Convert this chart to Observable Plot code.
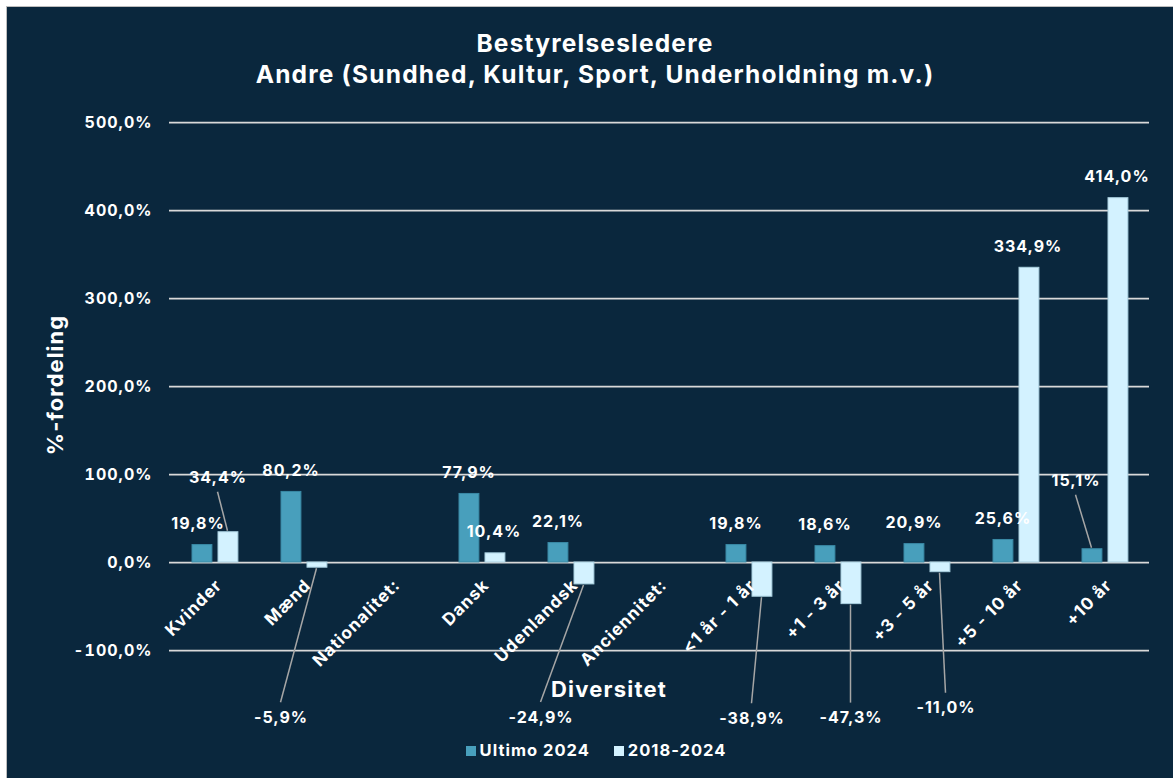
<!DOCTYPE html>
<html>
<head>
<meta charset="utf-8">
<script src="https://cdn.jsdelivr.net/npm/d3@7"></script>
<script src="https://cdn.jsdelivr.net/npm/@observablehq/plot@0.6"></script>
<style>
  html, body { margin: 0; padding: 0; background: #ffffff; }
  body { width: 1173px; height: 778px; position: relative; overflow: hidden; font-family: Inter, "Noto Sans", sans-serif; }
  #panel { position: absolute; left: 6px; top: 6px; width: 1167px; height: 772px; box-sizing: border-box;
           background: #0a273d; border-left: 1px solid #bdbdbd; border-top: 1px solid #bdbdbd; }
  #chart { position: absolute; left: 0; top: 0; }
  #chart text { letter-spacing: 1px; }
  .t { position: absolute; color: #ffffff; font-weight: 700; white-space: nowrap; }
  #title { left: 0; width: 1176px; top: 21px; text-align: center; font-size: 24.5px; line-height: 31px; letter-spacing: 1.2px; }
  #ylab { left: 48px; top: 378px; font-size: 22px; letter-spacing: 1px; transform: translate(-50%, -50%) rotate(-90deg); transform-origin: center; }
  #xlab { left: 602px; top: 682px; font-size: 22px; letter-spacing: 1.2px; transform: translate(-50%, -50%); }
  #legend { left: 0; width: 1178px; top: 733px; text-align: center; font-size: 16.5px; letter-spacing: 1px; }
  .sw { display: inline-block; width: 10px; height: 10px; margin-right: 4px; vertical-align: 0px; }
  .item { display: inline-block; margin: 0 12px; }
</style>
</head>
<body>
<div id="panel">
  <div id="chart"></div>
  <div id="title" class="t"></div>
  <div id="ylab" class="t"></div>
  <div id="xlab" class="t"></div>
  <div id="legend" class="t"></div>
</div>
<script>
// ---------- data ----------
const titleLines = ["Bestyrelsesledere", "Andre (Sundhed, Kultur, Sport, Underholdning m.v.)"];
const yTitle = "%-fordeling";
const xTitle = "Diversitet";
const seriesNames = ["Ultimo 2024", "2018-2024"];
const categories = ["Kvinder", "Mænd", "Nationalitet:", "Dansk", "Udenlandsk", "Anciennitet:",
  "<1 år - 1 år", "+1 - 3 år", "+3 - 5 år", "+5 - 10 år", "+10 år"];
const ultimo2024 = [19.8, 80.2, null, 77.9, 22.1, null, 19.8, 18.6, 20.9, 25.6, 15.1];
const change2018_2024 = [34.4, -5.9, null, 10.4, -24.9, null, -38.9, -47.3, -11.0, 334.9, 414.0];
const yTicks = [-100, 0, 100, 200, 300, 400, 500];

// ---------- layout / style (not data) ----------
const colors = {"Ultimo 2024": "#489fbc", "2018-2024": "#d3f2ff"};
const strokes = {"Ultimo 2024": "#3a8aa6", "2018-2024": "#a9cfdf"};
// label offset in px relative to bar centre / bar end
const ultimoLabelOffset = [[-4,-21],[0,-21],null,[0,-21],[0,-21],null,[0,-21],[0,-21],[0,-21],[0,-21],[-16,-68]];
const changeLabelOffset = [[-10,-54],[-36,150],null,[-1,-21],[-43,133],null,[-10,122],[0,114],[6,136],[-1,-21],[-1,-21]];
const barShift = {"Ultimo 2024": -13, "2018-2024": 13};

const W = 1166, H = 771;
const fmt = v => v.toFixed(1).replace(".", ",") + "%";

const rows = [];
categories.forEach((c, i) => {
  if (ultimo2024[i] != null) rows.push({cat: c, series: seriesNames[0], value: ultimo2024[i], off: ultimoLabelOffset[i]});
  if (change2018_2024[i] != null) rows.push({cat: c, series: seriesNames[1], value: change2018_2024[i], off: changeLabelOffset[i]});
});

const font = "Inter, 'Noto Sans', sans-serif";

const barMarks = seriesNames.map((s, k) => Plot.barY(rows.filter(d => d.series === s), {
  x: "cat", y1: 0, y2: "value",
  fill: colors[s], stroke: strokes[s], strokeWidth: 1,
  insetLeft: k === 0 ? 22 : 48, insetRight: k === 0 ? 47.1 : 21.1
}));

const labelMarks = rows.map(d => Plot.text([d], {
  x: "cat", y: "value", text: r => fmt(r.value),
  dx: barShift[d.series] + d.off[0], dy: d.off[1],
  fill: "#ffffff", fontSize: 16, fontWeight: 700, fontFamily: font
}));

// leader lines drawn with the plot's own scales
function leaders(index, scales) {
  const sx = scales.x, sy = scales.y;
  const bw = typeof sx.bandwidth === "function" ? sx.bandwidth() : (scales.scales && scales.scales.x ? scales.scales.x.bandwidth : 0);
  const g = d3.create("svg:g").attr("stroke", "#a6a6a6").attr("stroke-width", 1.5).attr("fill", "none");
  rows.forEach(d => {
    if (Math.abs(d.off[1]) < 30) return;
    const cx = sx(d.cat) + bw / 2 + barShift[d.series];
    const ey = sy(d.value);
    const lx = cx + d.off[0];
    const ly = ey + d.off[1] + (d.off[1] < 0 ? 14 : -15);
    g.append("line").attr("x1", cx).attr("y1", ey + (d.value < 0 ? 1 : -1)).attr("x2", lx).attr("y2", ly);
  });
  return g.node();
}

const chart = Plot.plot({
  width: W, height: H,
  marginLeft: 162, marginRight: 24, marginTop: 115, marginBottom: 128,
  style: {background: "transparent", color: "#ffffff", fontFamily: font, overflow: "visible"},
  x: {domain: categories, padding: 0, axis: null},
  y: {domain: [-100, 500], ticks: yTicks, axis: null},
  marks: [
    Plot.ruleY(yTicks, {stroke: "#d9d9d9", strokeWidth: 1.75}),
    ...barMarks,
    Plot.axisY(yTicks, {tickSize: 0, tickPadding: 17, tickFormat: fmt, fontSize: 16, fontWeight: 700, fill: "#ffffff", label: null}),
    Plot.text(categories, {x: d => d, y: () => 0, text: d => d, rotate: -45, textAnchor: "end",
      dx: 4, dy: 20, fill: "#ffffff", fontSize: 17, fontWeight: 700, fontFamily: font}),
    leaders,
    ...labelMarks
  ]
});
document.getElementById("chart").appendChild(chart);

document.getElementById("title").innerHTML = titleLines.join("<br>");
document.getElementById("ylab").textContent = yTitle;
document.getElementById("xlab").textContent = xTitle;
document.getElementById("legend").innerHTML = seriesNames.map(s =>
  `<span class="item"><span class="sw" style="background:${colors[s]}"></span>${s}</span>`).join("");
</script>
</body>
</html>
